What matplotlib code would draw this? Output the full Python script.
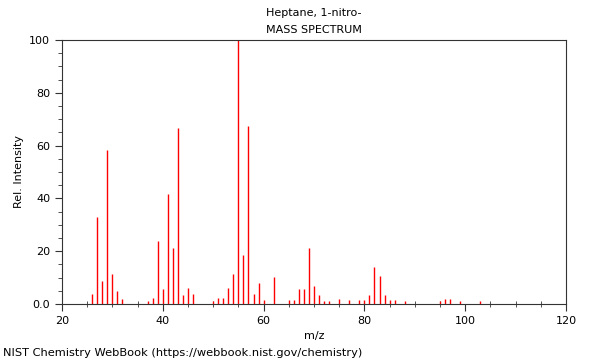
import matplotlib
matplotlib.use("Agg")
import matplotlib.pyplot as plt
from matplotlib.ticker import MultipleLocator, FixedFormatter, FixedLocator

# m/z and relative intensity
mz = [26, 27, 28, 29, 30, 31, 32, 37, 38, 39, 40, 41, 42, 43, 44, 45, 46,
      50, 51, 52, 53, 54, 55, 56, 57, 58, 59, 60, 62, 65, 66, 67, 68, 69,
      70, 71, 72, 73, 75, 77, 79, 80, 81, 82, 83, 84, 85, 86, 88,
      95, 96, 97, 99, 103]
intensity = [3.8, 33.0, 8.8, 58.3, 11.2, 5.0, 1.8, 1.3, 2.4, 24.0, 5.6, 41.7,
             21.1, 66.8, 3.3, 5.9, 3.7,
             1.1, 2.4, 2.1, 5.9, 11.4, 100.0, 18.4, 67.5, 3.7, 8.1, 1.5, 10.1,
             1.4, 1.5, 5.6, 5.6, 21.4,
             6.8, 3.4, 1.1, 1.1, 1.9, 1.5, 1.5, 1.5, 3.3, 14.0, 10.5, 3.3,
             1.5, 1.5, 1.3,
             1.3, 1.9, 1.9, 1.3, 1.3]

y_ticks = [0, 20, 40, 60, 80, 100]
y_ticklabels = ["0.0", "20", "40", "60", "80", "100"]
title_lines = ["Heptane, 1-nitro-", "MASS SPECTRUM"]
footer = "NIST Chemistry WebBook (https://webbook.nist.gov/chemistry)"

fig = plt.figure(figsize=(6.0, 3.6), dpi=100)
ax = fig.add_axes([62 / 600, 56 / 360, 504 / 600, 264 / 360])

ax.vlines(mz, 0, intensity, color="#ff0000", linewidth=1.0)

ax.set_xlim(20, 120)
ax.set_ylim(0, 100)
ax.xaxis.set_major_locator(MultipleLocator(20))
ax.xaxis.set_minor_locator(MultipleLocator(5))
ax.yaxis.set_major_locator(FixedLocator(y_ticks))
ax.yaxis.set_major_formatter(FixedFormatter(y_ticklabels))
ax.yaxis.set_minor_locator(MultipleLocator(5))
ax.tick_params(which="major", direction="out", length=5, width=0.8,
               labelsize=8, color="#333")
ax.tick_params(which="minor", direction="out", length=3, width=0.6,
               color="#333")
ax.tick_params(axis="x", which="minor", direction="inout", length=4)
for sp in ax.spines.values():
    sp.set_linewidth(0.8)
    sp.set_color("#333")

ax.set_xlabel("m/z", fontsize=8)
ax.set_ylabel("Rel. Intensity", fontsize=8)

fig.text(314 / 600, 1 - 13 / 360, title_lines[0], ha="center", va="center",
         fontsize=8)
fig.text(314 / 600, 1 - 30 / 360, title_lines[1], ha="center", va="center",
         fontsize=8)
fig.text(3 / 600, 1 - 353 / 360, footer, ha="left", va="center",
         fontsize=8.2)

fig.savefig("out.png", dpi=100)
